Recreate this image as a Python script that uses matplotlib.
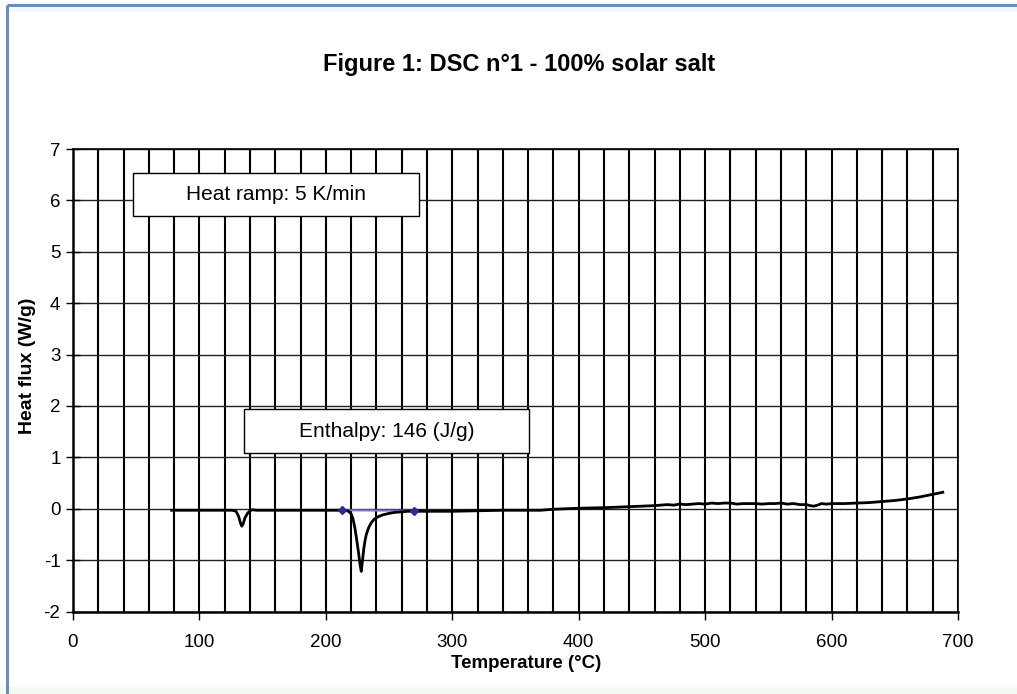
import matplotlib
matplotlib.use("Agg")
import matplotlib.pyplot as plt
from matplotlib.patches import Rectangle
from matplotlib.lines import Line2D
from matplotlib.ticker import MultipleLocator

plt.rcParams['font.family'] = ['Liberation Sans', 'DejaVu Sans']
plt.rcParams['axes.unicode_minus'] = False

# DSC heat-flow trace: temperature (°C) and heat flux (W/g)
temperature = [78, 90, 100, 110, 120, 126, 129, 131, 132.5, 133.5, 134.5, 136, 138,
               140, 142, 145, 150, 160, 170, 180, 190, 200, 210, 215, 218, 220,
               221.5, 223, 224.5, 226, 227, 228, 229, 230, 231, 232, 234, 236, 238,
               241, 245, 250, 255, 260, 265, 270, 280, 290, 300, 320, 340, 360, 370,
               380, 390, 400, 420, 440, 450, 460, 470, 475, 480, 485, 490, 495, 500,
               505, 510, 515, 520, 525, 530, 535, 540, 545, 550, 555, 560, 565, 570,
               575, 580, 583, 586, 589, 592, 596, 600, 610, 620, 630, 640, 650, 660,
               670, 680, 688]
heat_flux = [-0.03, -0.03, -0.03, -0.03, -0.03, -0.03, -0.05, -0.15, -0.28, -0.34, -0.30,
             -0.18, -0.09, -0.04, -0.02, -0.03, -0.03, -0.03, -0.03, -0.03, -0.03, -0.03,
             -0.03, -0.03, -0.05, -0.10, -0.20, -0.38, -0.62, -0.88, -1.08, -1.22, -1.00,
             -0.78, -0.62, -0.50, -0.36, -0.27, -0.21, -0.16, -0.12, -0.09, -0.07, -0.06,
             -0.05, -0.05, -0.05, -0.05, -0.05, -0.04, -0.03, -0.03, -0.03, -0.01, 0.00,
             0.01, 0.02, 0.04, 0.05, 0.06, 0.08, 0.07, 0.09, 0.08, 0.09, 0.10, 0.09, 0.11,
             0.10, 0.11, 0.11, 0.09, 0.10, 0.10, 0.10, 0.09, 0.10, 0.10, 0.11, 0.09, 0.10,
             0.08, 0.08, 0.06, 0.05, 0.07, 0.10, 0.09, 0.10, 0.10, 0.11, 0.12, 0.14, 0.16,
             0.19, 0.23, 0.28, 0.32]

# Integration baseline for the melting peak
baseline_temp = [213, 270]
baseline_flux = [-0.03, -0.04]

title_text = "Figure 1: DSC n°1 - 100% solar salt"
ramp_text = "Heat ramp: 5 K/min"
enthalpy_text = "Enthalpy: 146 (J/g)"
x_label = "Temperature (°C)"
y_label = "Heat flux (W/g)"

W, H = 1017, 694
fig = plt.figure(figsize=(W / 100, H / 100), dpi=100)
fig.patch.set_facecolor('white')

# Window frame
fig.add_artist(Rectangle((0, 0), 1, 7 / H, transform=fig.transFigure,
                         facecolor='#f3faf3', edgecolor='none', zorder=0))
fig.add_artist(Rectangle((8 / W, 1 - 12 / H), 1, 5 / H, transform=fig.transFigure,
                         facecolor='#f5fbfd', edgecolor='none', zorder=0))
fig.add_artist(Line2D([7 / W, 7 / W], [0, 1 - 5 / H], transform=fig.transFigure,
                      color='#6b8dbb', lw=2.2, solid_capstyle='butt'))
fig.add_artist(Line2D([7 / W, 1], [1 - 5 / H, 1 - 5 / H], transform=fig.transFigure,
                      color='#6b8dbb', lw=2.2, solid_capstyle='butt'))

ax = fig.add_axes([73 / W, 1 - 611.5 / H, (958 - 73) / W, (611.5 - 149) / H])
ax.set_xlim(0, 700)
ax.set_ylim(-2, 7)

ax.xaxis.set_major_locator(MultipleLocator(100))
ax.xaxis.set_minor_locator(MultipleLocator(20))
ax.yaxis.set_major_locator(MultipleLocator(1))

ax.grid(True, axis='x', which='both', color='#000000', lw=1.5, zorder=1)
ax.grid(True, axis='y', which='major', color='#222222', lw=1.0, zorder=1)
ax.set_axisbelow(True)

ax.tick_params(axis='x', which='major', direction='out', length=6, width=1,
               labelsize=13.5, pad=10)
ax.tick_params(axis='x', which='minor', length=0)
ax.tick_params(axis='y', which='major', direction='inout', length=10, width=1,
               labelsize=13.5, pad=4)

for side in ['left', 'bottom']:
    ax.spines[side].set_linewidth(1.8)
for side in ['top', 'right']:
    ax.spines[side].set_linewidth(1.2)

ax.plot(temperature, heat_flux, color='black', lw=2.0, zorder=4)
ax.plot(baseline_temp, baseline_flux, color='#7a7ac8', lw=1.5, zorder=3)
ax.plot(baseline_temp, baseline_flux, ls='none', marker='D', ms=4,
        color='#2b2b9a', zorder=5)

# Annotation boxes
boxes = [((47.5, 5.70), 226.2, 0.83, ramp_text),
         ((135.5, 1.08), 225.3, 0.86, enthalpy_text)]
for (bx, by), bw, bh, label in boxes:
    ax.add_patch(Rectangle((bx, by), bw, bh, facecolor='white', edgecolor='black',
                           lw=1.0, zorder=6))
    ax.text(bx + bw / 2, by + bh / 2, label, ha='center', va='center',
            fontsize=15, zorder=7)

fig.text(526 / W, 1 - 663 / H, x_label, ha='center', va='center',
         fontsize=13.5, fontweight='bold')
fig.text(28 / W, 1 - 366 / H, y_label, ha='center', va='center', rotation=90,
         fontsize=14, fontweight='bold')

fig.text(519 / W, 1 - 64 / H, title_text, ha='center', va='center',
         fontsize=17, fontweight='bold')

fig.savefig('out.png', dpi=100)
